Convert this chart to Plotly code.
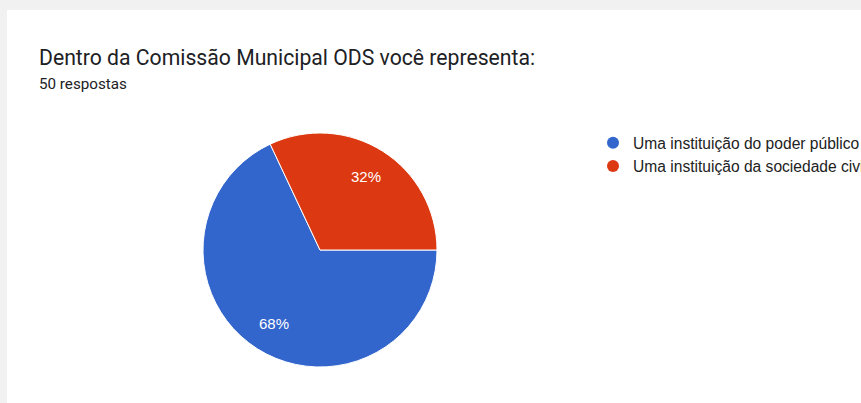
import math
import plotly.graph_objects as go

labels = ["Uma instituição do poder público", "Uma instituição da sociedade civil"]
values = [34, 16]
colors = ["#3366cc", "#dc3912"]
title = "Dentro da Comissão Municipal ODS você representa:"
subtitle = "50 respostas"

W, H = 861, 403
CX, CY, R = 320, 250, 117
fig = go.Figure()

fig.add_trace(go.Pie(
    labels=labels, values=values, sort=False, direction="clockwise", rotation=90,
    marker=dict(colors=colors, line=dict(color="white", width=1)),
    textinfo="none",
    domain=dict(x=[(CX - R) / W, (CX + R) / W], y=[(H - CY - R) / H, (H - CY + R) / H]),
    showlegend=False, hoverinfo="label+percent",
))

for i, (lab, col) in enumerate(zip(labels, colors)):
    fig.add_trace(go.Scatter(
        x=[None], y=[None], mode="markers", name=lab, legendgroup=f"g{i}",
        marker=dict(symbol="circle", size=15, color=col),
    ))

# slice labels placed along each slice bisector
total = sum(values)
annots = []
cum = 0
for v in values:
    mid = -(cum + v / 2) / total * 2 * math.pi
    cum += v
    px = CX + 0.74 * R * math.cos(mid)
    py = CY - 0.74 * R * math.sin(mid)
    annots.append(dict(text=f"{round(v / total * 100)}%", x=px / W, y=1 - py / H,
                       xref="paper", yref="paper", showarrow=False,
                       xanchor="center", yanchor="middle",
                       font=dict(size=15, color="white", family="Liberation Sans, Arial")))

annots += [
    dict(text=title, x=37 / W, y=1 - 57 / H, xref="paper", yref="paper",
         xanchor="left", yanchor="middle", showarrow=False,
         font=dict(size=21.2, color="#202124", family="Roboto")),
    dict(text=subtitle, x=37 / W, y=1 - 84 / H, xref="paper", yref="paper",
         xanchor="left", yanchor="middle", showarrow=False,
         font=dict(size=15.2, color="#202124", family="Roboto")),
]

fig.update_layout(
    width=W, height=H,
    margin=dict(l=0, r=0, t=0, b=0, autoexpand=False),
    paper_bgcolor="#f1f1f1", plot_bgcolor="rgba(0,0,0,0)",
    xaxis=dict(visible=False), yaxis=dict(visible=False),
    font=dict(family="Roboto", color="#202124"),
    legend=dict(
        x=593 / W, y=1 - 126 / H, xanchor="left", yanchor="top",
        font=dict(size=15.6, color="#222222", family="Liberation Sans, Arial"),
        bgcolor="rgba(0,0,0,0)", itemsizing="constant", tracegroupgap=0,
    ),
    shapes=[dict(type="rect", xref="paper", yref="paper", x0=7 / W, x1=1.01,
                 y0=-0.01, y1=1 - 10 / H, fillcolor="white", line=dict(width=0), layer="below")],
    annotations=annots,
)

fig.write_html("out.html")
